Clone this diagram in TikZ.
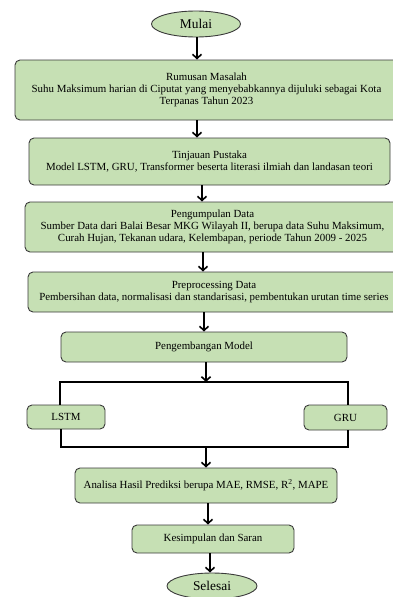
\documentclass[tikz,border=0pt]{standalone}
\usepackage{fontspec}
\setmainfont{Liberation Serif}
\usetikzlibrary{arrows.meta,shapes.geometric}
\definecolor{boxgreen}{HTML}{C6E0B4}
\definecolor{edgegray}{HTML}{3A3A3A}
\begin{document}
\begin{tikzpicture}[x=1pt,y=-1pt,
  box/.style={draw=edgegray, line width=0.9pt, fill=boxgreen, rounded corners=5pt,
    align=center, inner sep=0pt, font=\fontsize{10.9}{11.8}\selectfont},
  ell/.style={ellipse, draw=edgegray, line width=0.9pt, fill=boxgreen, inner sep=0pt,
    minimum width=89pt, minimum height=26pt, font=\fontsize{13.4}{15}\selectfont},
  arr/.style={line width=1.6pt, -{Straight Barb[length=4.2pt,width=9pt]}},
  conn/.style={line width=1.6pt}]
\path[use as bounding box] (0,0) rectangle (393,597);
\clip (0,0) rectangle (393,597);

\node[ell] (m) at (196,24) {Mulai};
\node[box, minimum width=383pt, minimum height=60pt] (r) at (206.5,90)
  {Rumusan Masalah\\Suhu Maksimum harian di Ciputat yang menyebabkannya dijuluki sebagai Kota\\Terpanas Tahun 2023};
\node[box, minimum width=361pt, minimum height=47pt] (t) at (209.5,161.5)
  {Tinjauan Pustaka\\Model LSTM, GRU, Transformer beserta literasi ilmiah dan landasan teori};
\node[box, minimum width=375pt, minimum height=50pt] (d) at (212.5,227)
  {Pengumpulan Data\\Sumber Data dari Balai Besar MKG Wilayah II, berupa data Suhu Maksimum,\\Curah Hujan, Tekanan udara, Kelembapan, periode Tahun 2009 - 2025};
\node[box, minimum width=372pt, minimum height=40pt] (p) at (214,292)
  {Preprocessing Data\\Pembersihan data, normalisasi dan standarisasi, pembentukan urutan time series};
\node[box, minimum width=286pt, minimum height=30pt] (e) at (204,347) {Pengembangan Model};
\node[box, minimum width=78pt, minimum height=24pt] (l) at (66,417) {LSTM};
\node[box, minimum width=83pt, minimum height=25pt] (g) at (345.5,417.5) {GRU};
\node[box, minimum width=262pt, minimum height=35pt] (a) at (206,485.5)
  {Analisa Hasil Prediksi berupa MAE, RMSE, R\textsuperscript{2}, MAPE};
\node[box, minimum width=162pt, minimum height=28pt] (k) at (213,539) {Kesimpulan dan Saran};
\node[ell, minimum width=90pt] (s) at (212,586) {Selesai};

\coordinate (c1) at (197,0);
\coordinate (c3) at (202,0);
\coordinate (c4) at (203,0);
\coordinate (c5) at (204,0);
\coordinate (c6) at (206,0);
\coordinate (c8) at (208,0);
\coordinate (c9) at (210,0);
\coordinate (sl) at (60,382);
\coordinate (sr) at (348,382);
\coordinate (jl) at (61,447);
\coordinate (jr) at (348,447);

\draw[arr] (m.south -| c1) -- (r.north -| c1);
\draw[arr] (r.south -| c1) -- (t.north -| c1);
\draw[arr] (t.south -| c3) -- (d.north -| c3);
\draw[arr] (d.south -| c4) -- (p.north -| c4);
\draw[arr] (p.south -| c5) -- (e.north -| c5);
\draw[arr] (e.south -| c6) -- (c6 |- sl);
\draw[conn] (l.north -| sl) -- (sl) -- (sr) -- (g.north -| sr);
\draw[conn] (l.south -| jl) -- (jl) -- (jr) -- (g.south -| jr);
\draw[arr] (c6 |- jl) -- (a.north -| c6);
\draw[arr] (a.south -| c8) -- (k.north -| c8);
\draw[arr] (k.south -| c9) -- (s.north -| c9);
\end{tikzpicture}
\end{document}
